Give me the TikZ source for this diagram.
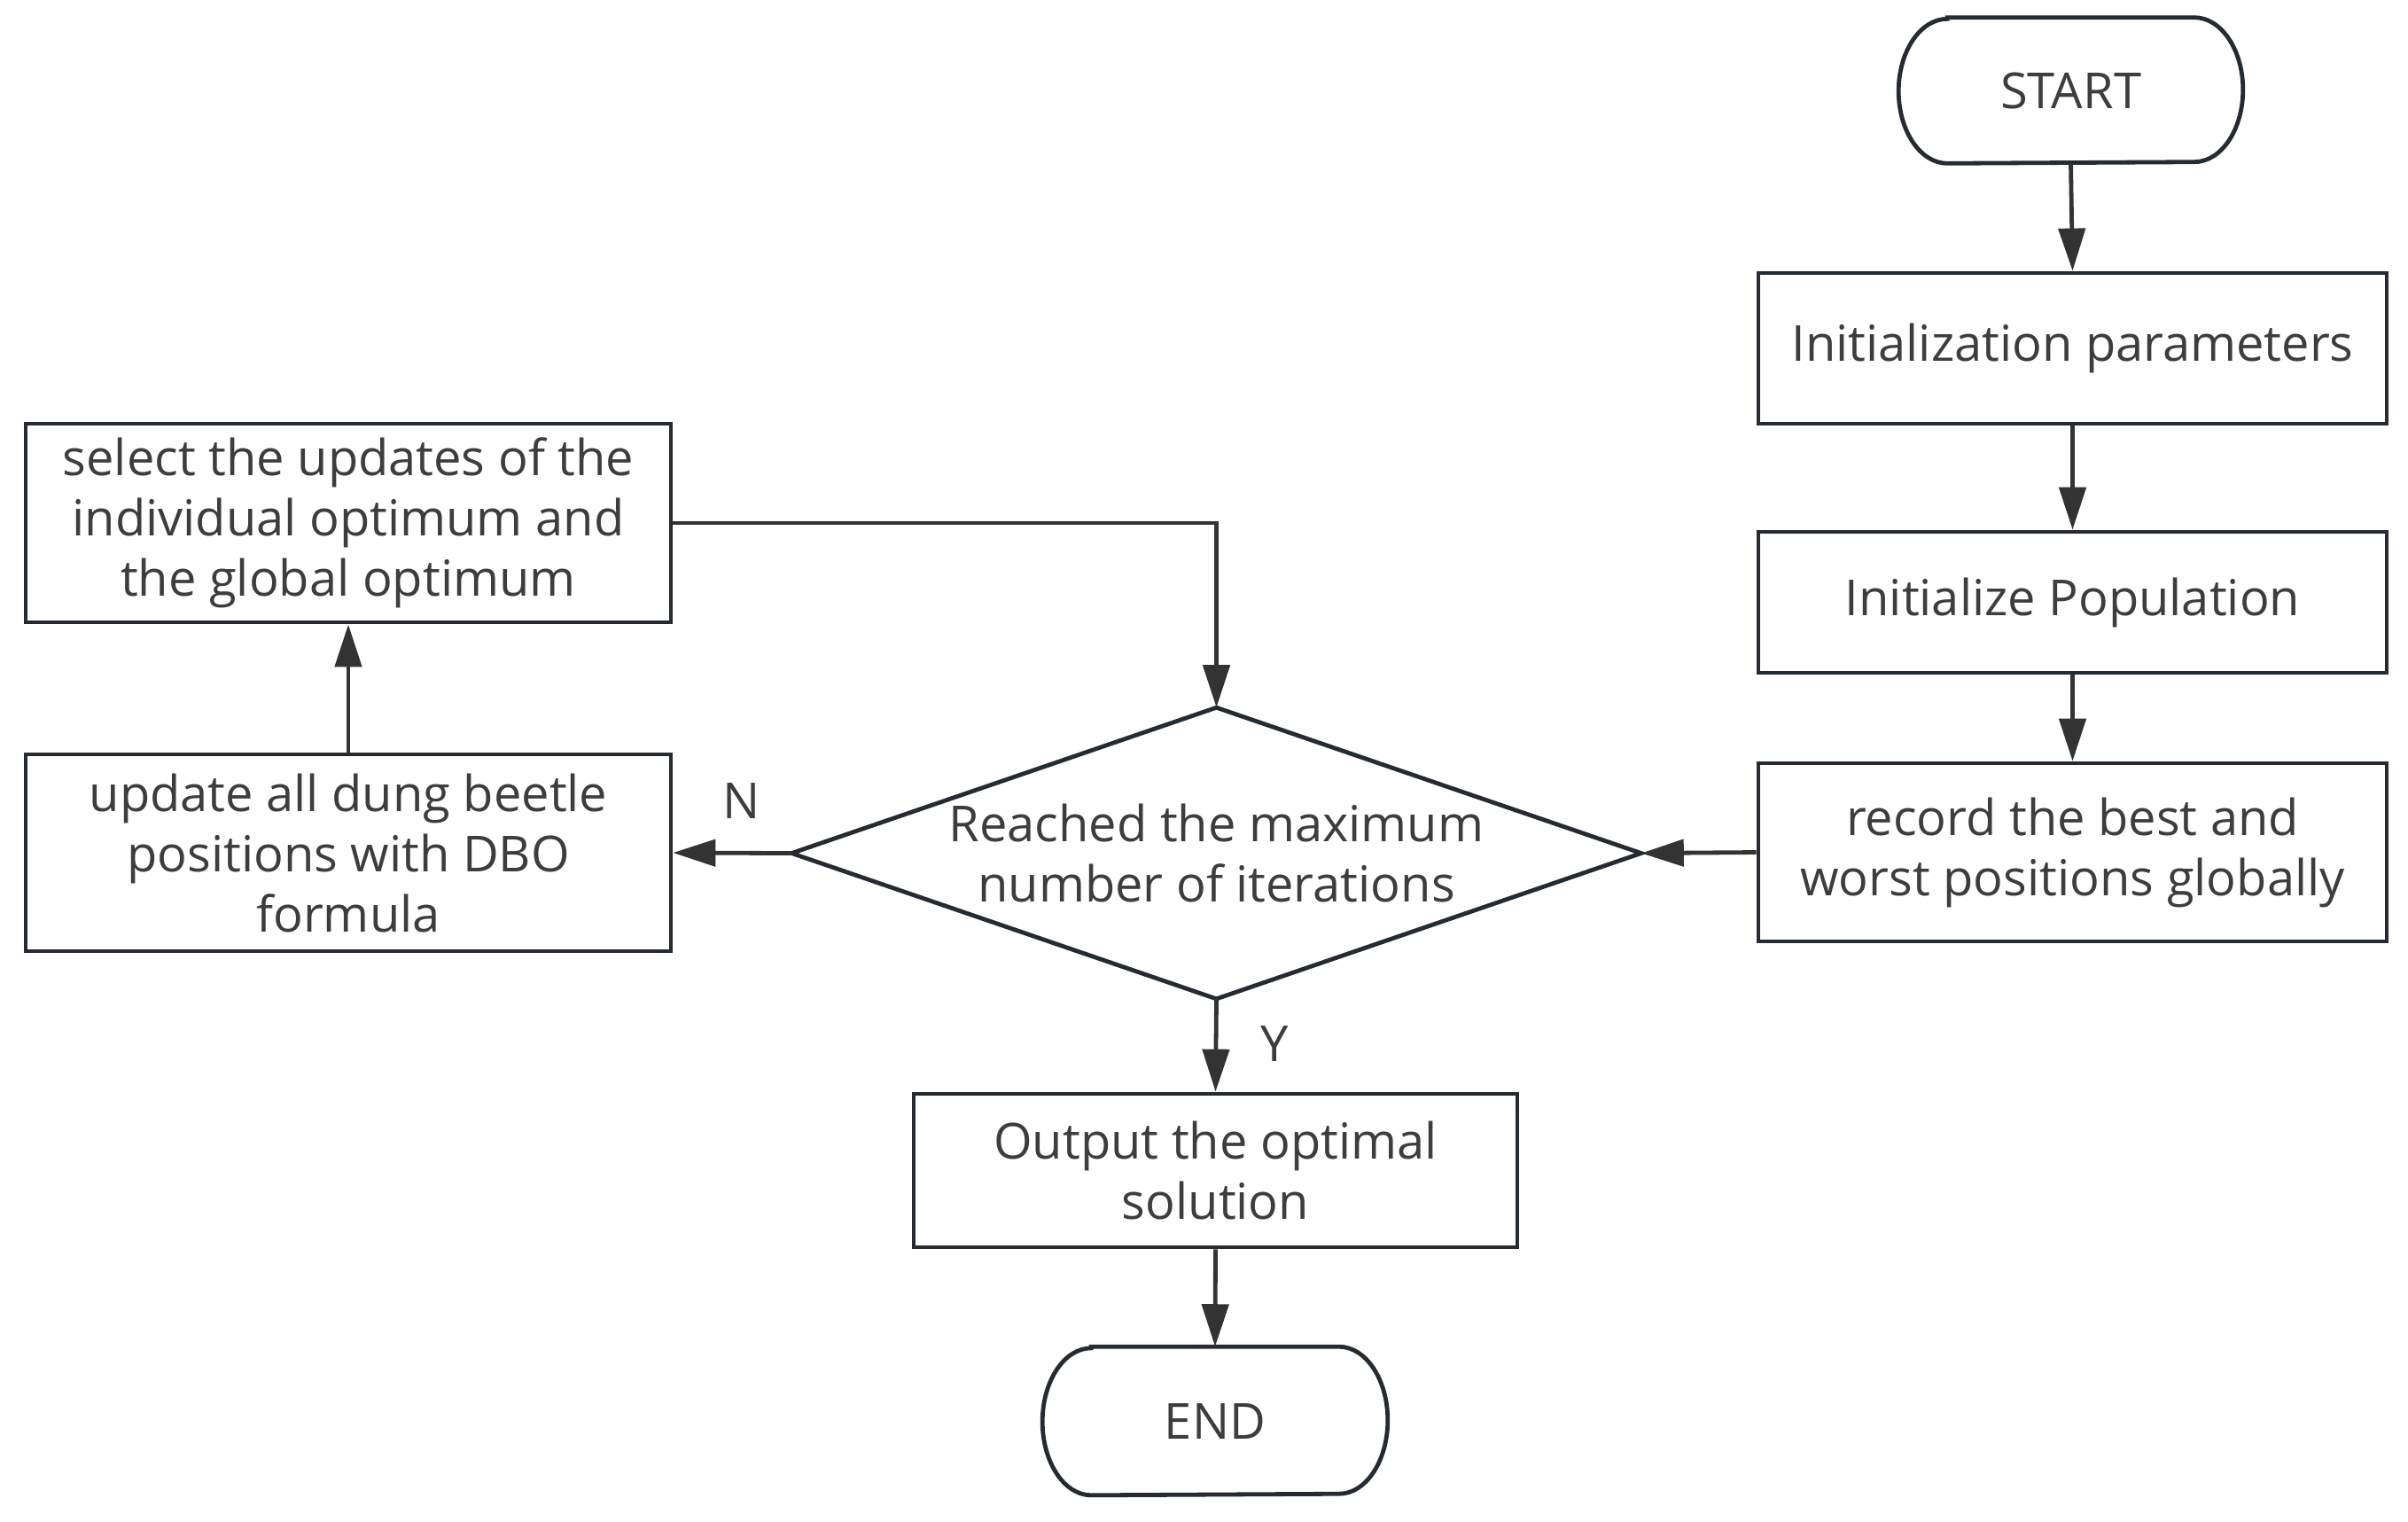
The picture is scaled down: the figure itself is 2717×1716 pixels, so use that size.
\documentclass[tikz,border=0pt]{standalone}
\usepackage{fontspec}
\setmainfont{Open Sans}
\usetikzlibrary{arrows.meta}
\definecolor{bord}{HTML}{262B31}
\definecolor{ln}{HTML}{333333}
\definecolor{txt}{HTML}{3D3D3D}
\begin{document}
\begin{tikzpicture}[x=0.25pt,y=-0.25pt,
  every node/.style={font=\fontsize{14}{17}\selectfont, text=txt, align=center, inner sep=0pt},
  box/.style={draw=bord, line width=1.2pt, rectangle},
  ghost/.style={draw=none, rectangle},
  outline/.style={draw=bord, line width=1.2pt},
  flow/.style={draw=ln, line width=1.2pt, -{Triangle[length=12pt,width=7.5pt]}}
]
\fill[white] (0,0) rectangle (2717,1716);
\useasboundingbox (0,0) rectangle (2717,1716);

% terminals
\node[ghost, minimum width=387*0.25pt, minimum height=163*0.25pt] (start) at (2336.5,102) {START};
\node[ghost, minimum width=388*0.25pt, minimum height=166*0.25pt] (end) at (1371,1603) {END};
\draw[outline] ([xshift=13.75pt]start.north west) -- ([xshift=-13.75pt]start.north east)
  arc[start angle=90,end angle=-90,x radius=13.75pt,y radius=20.375pt]
  -- ([xshift=13.75pt]start.south west)
  arc[start angle=270,end angle=90,x radius=13.75pt,y radius=20.375pt] -- cycle;
\draw[outline] ([xshift=13.75pt]end.north west) -- ([xshift=-13.75pt]end.north east)
  arc[start angle=90,end angle=-90,x radius=13.75pt,y radius=20.75pt]
  -- ([xshift=13.75pt]end.south west)
  arc[start angle=270,end angle=90,x radius=13.75pt,y radius=20.75pt] -- cycle;

% process boxes
\node[box, minimum width=709*0.25pt, minimum height=170*0.25pt] (init) at (2338.5,393) {Initialization parameters};
\node[box, minimum width=709*0.25pt, minimum height=159*0.25pt] (pop) at (2338.5,679.5) {Initialize Population};
\node[box, minimum width=709*0.25pt, minimum height=201*0.25pt] (record) at (2338.5,961.5) {record the best and\\worst positions globally};
\node[box, minimum width=728*0.25pt, minimum height=222*0.25pt] (update) at (393,962) {update all dung beetle\\positions with DBO\\formula};
\node[box, minimum width=728*0.25pt, minimum height=224*0.25pt] (select) at (393,590) {select the updates of the\\individual optimum and\\the global optimum};
\node[box, minimum width=681*0.25pt, minimum height=173*0.25pt] (output) at (1371.5,1320.5) {Output the optimal\\solution};

% decision
\node[ghost, minimum width=957*0.25pt, minimum height=327*0.25pt] (dia) at (1372.5,962.5) {Reached the maximum\\number of iterations};
\draw[outline, line join=miter] (dia.north) -- (dia.east) -- (dia.south) -- (dia.west) -- cycle;

% labels
\node (nlab) at (837,903) {N};
\node (ylab) at (1438,1177) {Y};

% connectors
\draw[flow] (start.south) -- (init.north);
\draw[flow] (init.south) -- (pop.north);
\draw[flow] (pop.south) -- (record.north);
\draw[flow] (record.west) -- (dia.east);
\draw[flow] (dia.west) -- (update.east);
\draw[flow] (update.north) -- (select.south);
\draw[flow] (select.east) -| (dia.north);
\draw[flow] (dia.south) -- (output.north);
\draw[flow] (output.south) -- (end.north);
\end{tikzpicture}
\end{document}
